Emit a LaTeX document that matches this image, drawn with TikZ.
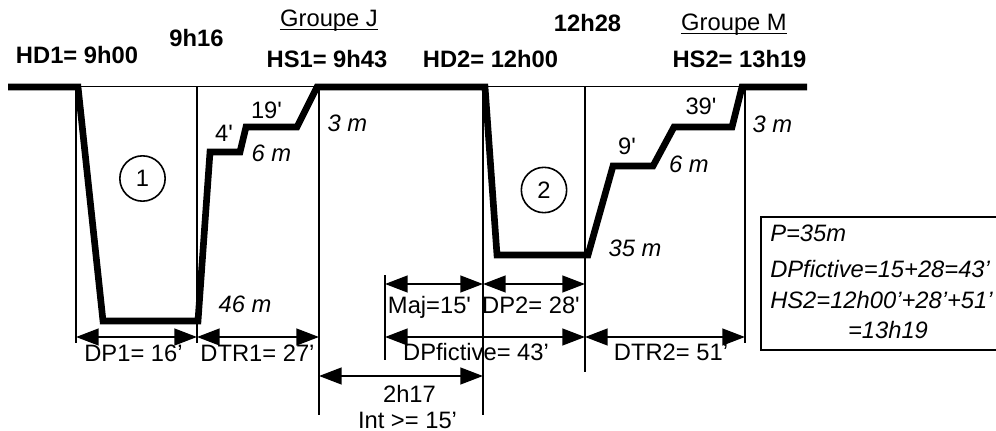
\documentclass[tikz,border=0pt]{standalone}
\usepackage{fontspec}
\setmainfont{Liberation Sans}[Ligatures=TeXOff]
\usetikzlibrary{arrows.meta}
\begin{document}
\begin{tikzpicture}[x=0.75pt,y=-0.75pt,
  lbl/.style={inner sep=0pt, anchor=base, font=\fontsize{17.8}{20}\selectfont},
  blbl/.style={inner sep=0pt, anchor=base, font=\fontsize{17.8}{20}\selectfont\bfseries},
  ilbl/.style={inner sep=0pt, anchor=base, font=\fontsize{17.8}{20}\selectfont\itshape},
  ilblw/.style={inner sep=0pt, anchor=base west, font=\fontsize{17.8}{20}\selectfont\itshape},
  profile/.style={line width=5pt},
  guide/.style={line width=1.2pt},
  dimarrow/.style={line width=1.8pt, {Triangle[length=17pt,width=12.5pt]}-{Triangle[length=17pt,width=12.5pt]}},
  numcirc/.style={circle, draw, line width=1.2pt, minimum size=34pt, inner sep=0pt, font=\fontsize{17.8}{20}\selectfont},
  uline/.style={line width=1pt},
  infobox/.style={line width=1.5pt}
]
\useasboundingbox (0,0) rectangle (996,431);

% guide lines (thin)
\coordinate (t0) at (76,86.5);
\coordinate (t1) at (745,86.5);
\draw[guide] (t0) -- (t1);
\coordinate (v1a) at (76,87);   \coordinate (v1b) at (76,343);
\coordinate (v2a) at (197,87);  \coordinate (v2b) at (197,343);
\coordinate (v3a) at (319,87);  \coordinate (v3b) at (319,415);
\coordinate (v4a) at (385,275); \coordinate (v4b) at (385,360);
\coordinate (v5a) at (483,87);  \coordinate (v5b) at (483,415);
\coordinate (v6a) at (585,87);  \coordinate (v6b) at (585,372);
\coordinate (v7a) at (745,87);  \coordinate (v7b) at (745,343);
\foreach \v in {1,...,7} \draw[guide] (v\v a) -- (v\v b);

% dive profile
\coordinate (p0) at (8,87);
\coordinate (p1) at (78,87);
\coordinate (p2) at (103,321);
\coordinate (p3) at (198,321);
\coordinate (p4) at (210,152);
\coordinate (p5) at (240,152);
\coordinate (p6) at (246,127);
\coordinate (p7) at (297,127);
\coordinate (p8) at (317,87);
\coordinate (p9) at (485,87);
\coordinate (p10) at (497,255);
\coordinate (p11) at (588,255);
\coordinate (p12) at (613,166);
\coordinate (p13) at (653,166);
\coordinate (p14) at (674,127);
\coordinate (p15) at (732,127);
\coordinate (p16) at (742,87);
\coordinate (p17) at (807,87);
\draw[profile] (p0) -- (p1) -- (p2) -- (p3) -- (p4) -- (p5) -- (p6) -- (p7) -- (p8)
  -- (p9) -- (p10) -- (p11) -- (p12) -- (p13) -- (p14) -- (p15) -- (p16) -- (p17);

% dimension arrows
\coordinate (a1) at (76,337);  \coordinate (a2) at (197,337); \coordinate (a3) at (319,337);
\coordinate (b1) at (385,284); \coordinate (b2) at (483,284); \coordinate (b3) at (585,284);
\coordinate (c1) at (385,337); \coordinate (c2) at (585,337); \coordinate (c3) at (745,337);
\coordinate (d1) at (319,376); \coordinate (d2) at (483,376);
\draw[dimarrow] (a1) -- (a2);
\draw[dimarrow] (a2) -- (a3);
\draw[dimarrow] (b1) -- (b2);
\draw[dimarrow] (b2) -- (b3);
\draw[dimarrow] (c1) -- (c2);
\draw[dimarrow] (c2) -- (c3);
\draw[dimarrow] (d1) -- (d2);

% dimension labels
\node[lbl] (ldp1) at (133.5,361) {DP1= 16’};
\node[lbl] (ldtr1) at (257.5,361) {DTR1= 27’};
\node[lbl] (lmaj) at (429.5,313) {Maj=15'};
\node[lbl] (ldp2) at (531,313) {DP2= 28'};
\node[lbl] (ldpf) at (476,360) {DPfictive= 43’};
\node[lbl] (ldtr2) at (671,360) {DTR2= 51’};
\node[lbl] (l2h17) at (409.5,402) {2h17};
\node[lbl] (lint) at (407.5,428) {Int >= 15’};

% top labels
\node[lbl] (gj) at (329,27) {Groupe J};
\draw[uline] ([yshift=-2pt]gj.base west) -- ([yshift=-2pt]gj.base east);
\node[lbl] (gm) at (734,31) {Groupe M};
\draw[uline] ([yshift=-2pt]gm.base west) -- ([yshift=-2pt]gm.base east);
\node[blbl] (hd1) at (77,64) {HD1= 9h00};
\node[blbl] (h916) at (196.5,47) {9h16};
\node[blbl] (hs1) at (327,68) {HS1= 9h43};
\node[blbl] (hd2) at (490.5,68) {HD2= 12h00};
\node[blbl] (h1228) at (587.5,32) {12h28};
\node[blbl] (hs2) at (739.5,68) {HS2= 13h19};

% profile labels
\node[lbl] (s4) at (224,142) {4'};
\node[lbl] (s19) at (266.5,119) {19'};
\node[ilbl] (m6a) at (271.5,162) {6 m};
\node[ilbl] (m46) at (245,312) {46 m};
\node[ilbl] (m3a) at (347.5,132) {3 m};
\node[ilbl] (m35) at (635,257) {35 m};
\node[lbl] (s9) at (627,155) {9'};
\node[ilbl] (m6b) at (689,173) {6 m};
\node[lbl] (s39) at (701,115) {39'};
\node[ilbl] (m3b) at (772.5,133) {3 m};

\node[numcirc] (c1n) at (142.5,178.5) {1};
\node[numcirc] (c2n) at (544,190) {2};

% info box
\coordinate (bx1) at (761,217);
\coordinate (bx2) at (1010,350);
\draw[infobox] (bx1) rectangle (bx2);
\node[ilblw] (i1) at (770,242) {P=35m};
\node[ilblw] (i2) at (770,277) {DPfictive=15+28=43’};
\node[ilblw] (i3) at (770,308) {HS2=12h00’+28’+51’};
\node[ilbl] (i4) at (888,338) {=13h19};
\end{tikzpicture}
\end{document}
